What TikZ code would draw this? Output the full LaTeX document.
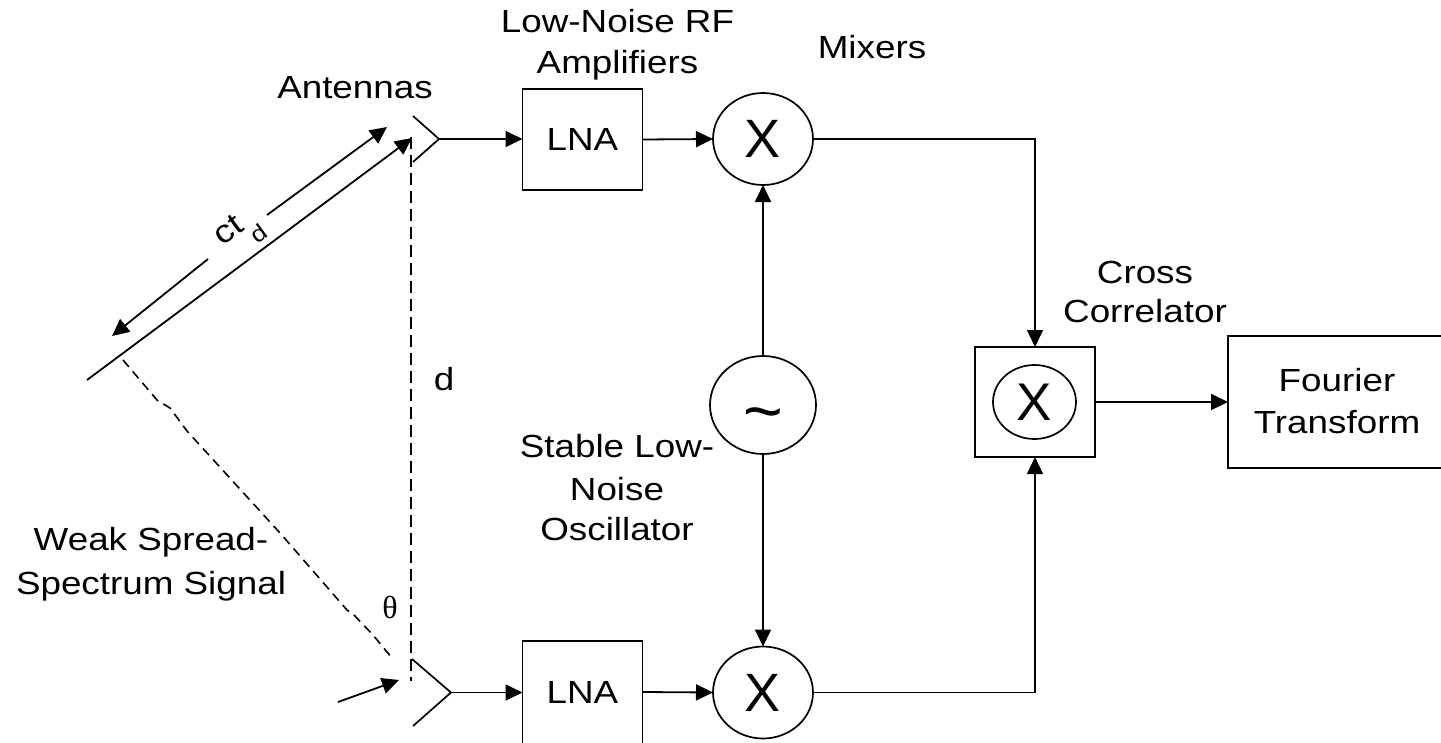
\documentclass[tikz,border=0pt]{standalone}
\usepackage{fontspec}
\setmainfont[FakeStretch=1.15]{Liberation Sans}
\newfontfamily\thetafont{Liberation Serif}
\newfontfamily\plainsans{Liberation Sans}
\usetikzlibrary{arrows.meta,shapes.geometric}
\tikzset{
  lab/.style={font=\fontsize{32}{41}\selectfont,align=center,anchor=base,inner sep=0pt,outer sep=0pt},
  boxn/.style={draw,line width=1.2pt,inner sep=0pt,outer sep=0pt,font=\fontsize{32}{41}\selectfont},
  mix/.style={draw,ellipse,line width=1.7pt,inner sep=0pt,outer sep=0pt,minimum width=100pt,minimum height=92pt,font=\fontsize{54}{54}\plainsans},
  con/.style={line width=1.8pt,-{Triangle[length=17pt,width=16pt]}},
  ant/.style={line width=1.7pt},
}
\begin{document}
\begin{tikzpicture}[x=1pt,y=-1pt]
\useasboundingbox (0,0) rectangle (1441,742);
\clip (0,0) rectangle (1441,742);
% blocks
\node[boxn,minimum width=120pt,minimum height=101pt] (lna1) at (582.5,139.5) {LNA};
\node[inner sep=0pt,outer sep=0pt,minimum width=120pt,minimum height=102pt,font=\fontsize{32}{41}\selectfont] (lna2) at (582.5,692) {LNA};
\draw[line width=1.2pt] (lna2.south west) -- (lna2.north west) -- (lna2.north east) -- (lna2.south east);
\node[mix] (mx1) at (763,139) {X};
\node[mix] (mx2) at (763,692.5) {X};
\node[mix,minimum width=106pt,minimum height=98pt,font=\fontsize{68}{68}\plainsans] (osc) at (763,405) {\raisebox{-29pt}[0pt][0pt]{\char`\~}};
\node[draw,line width=1.7pt,inner sep=0pt,outer sep=0pt,minimum width=120pt,minimum height=110pt] (cc) at (1035,402) {};
\node[mix,minimum width=83pt,minimum height=74pt,font=\fontsize{53}{53}\plainsans] (ccx) at (1034.5,402) {X};
\node[inner sep=0pt,outer sep=0pt,minimum width=213pt,minimum height=132pt] (ft) at (1334.5,402) {};
\draw[line width=1.2pt] (ft.north east) -- (ft.north west) -- (ft.south west) -- (ft.south east);
% antennas
\coordinate (a1t) at (413,116); \coordinate (a1) at (439,139); \coordinate (a1b) at (413,162);
\coordinate (a2t) at (412,659); \coordinate (a2) at (451,692.5); \coordinate (a2b) at (413,726);
\draw[ant] (a1t) -- (a1) -- (a1b);
\draw[ant] (a2t) -- (a2) -- (a2b);
% connectors
\draw[con] (a1) -- (a1 -| lna1.west);
\draw[con] (a2) -- (a2 -| lna2.west);
\draw[con] (lna1.east) -- (mx1.west);
\draw[con] (lna2.east) -- (mx2.west);
\draw[con] (osc.north) -- (mx1.south);
\draw[con] (osc.south) -- (mx2.north);
\draw[con,line width=1.2pt] (mx1.east) -| (cc.north);
\draw[con,line width=1.2pt] (mx2.east) -| (cc.south);
\draw[con] (cc.east) -- (ft.west);
% geometry
\coordinate (base0) at (87,380); \coordinate (base1) at (412,138);
\draw[con] (base0) -- (base1);
\coordinate (ct1) at (267,215); \coordinate (ct1t) at (387,127);
\coordinate (ct2) at (208,259); \coordinate (ct2t) at (112,336);
\draw[con] (ct1) -- (ct1t);
\draw[con] (ct2) -- (ct2t);
\coordinate (inc0) at (338,702); \coordinate (inc1) at (399,680);
\draw[con] (inc0) -- (inc1);
\coordinate (v0) at (411,137); \coordinate (v1) at (411,681);
\draw[line width=2pt,dash pattern=on 12pt off 6pt] (v0) -- (v1);
\draw[line width=1.6pt,dash pattern=on 9pt off 6pt] (123,360) -- (157,400) -- (170,408) -- (187,431) -- (280,533) -- (347,610) -- (353,614) -- (373,635) -- (392,658);
% labels
\node[lab] (t1) at (355,98) {Antennas};
\node[lab] (t2) at (617.5,73) {Low-Noise RF\\Amplifiers};
\node[lab] (t3) at (872,58) {Mixers};
\node[lab] (t4) at (1145,322) {Cross\\[-2pt]Correlator};
\node[lab] (t5) at (1337,433) {Fourier\\[1pt]Transform};
\node[lab] (t6) at (444,390) {d};
\node[lab] (t7) at (617,540) {Stable Low-\\[1.5pt]Noise\\[-1pt]Oscillator};
\node[lab] (t8) at (151,594) {Weak Spread-\\[3pt]Spectrum Signal};
\node[inner sep=0pt,font=\fontsize{32}{32}\thetafont] (t9) at (390,607) {θ};
\node[lab,rotate=36,anchor=center] (t10) at (240,233) {ct\raisebox{-19pt}{\fontsize{23}{23}\selectfont d}};
\end{tikzpicture}
\end{document}
